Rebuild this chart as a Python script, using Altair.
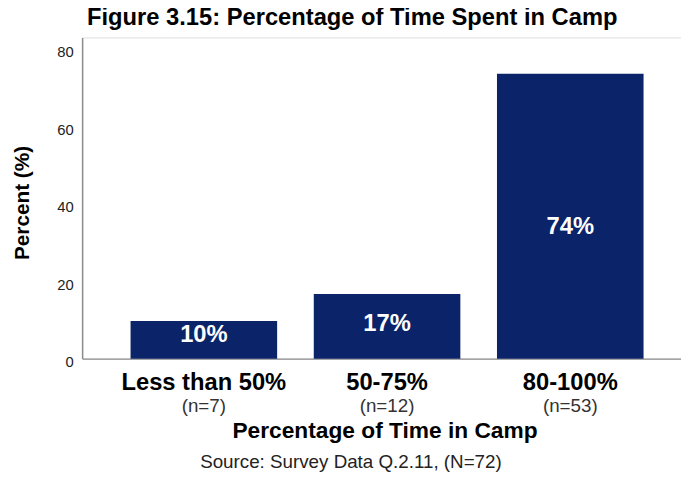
import altair as alt
import pandas as pd

categories = ["Less than 50%", "50-75%", "80-100%"]
counts = ["(n=7)", "(n=12)", "(n=53)"]
percents = [9.72, 16.67, 73.61]
bar_labels = ["10%", "17%", "74%"]
y_ticks = [0, 20, 40, 60, 80]

df = pd.DataFrame({"cat": categories, "n": counts, "value": percents, "lab": bar_labels})

FONT = "Liberation Sans"
BAR = "#0b2469"
W, H = 606, 325

x = alt.X("cat:N", sort=categories,
          scale=alt.Scale(paddingInner=0.2, paddingOuter=0.2344, align=0.564),
          axis=alt.Axis(title="Percentage of Time in Camp", labelAngle=0,
                        labelFont=FONT, labelFontSize=24, labelFontWeight="bold",
                        labelColor="#000", labelPadding=12, ticks=False,
                        domainColor="#8c8c8c", domainWidth=1.5,
                        titleFont=FONT, titleFontSize=23, titleFontWeight="bold",
                        titleColor="#000", titleY=73, titleX=306,
                        titleBaseline="middle", titleAlign="center"))

y = alt.Y("value:Q",
          scale=alt.Scale(domain=[0, 83], nice=False),
          axis=alt.Axis(title="Percent (%)", values=y_ticks, grid=False, ticks=False,
                        labelFont=FONT, labelFontSize=15, labelColor="#222",
                        labelPadding=9, labelOffset=3,
                        domainColor="#8c8c8c", domainWidth=1.5,
                        titleFont=FONT, titleFontSize=21, titleFontWeight="bold",
                        titleColor="#000", titleX=-60, titleY=167,
                        titleAngle=-90, titleBaseline="middle", titleAlign="center"))

base = alt.Chart(df)

bars = base.mark_bar(color=BAR).encode(x=x, y=y)

labels = base.transform_calculate(pos="datum.value*0.436").mark_text(
    font=FONT, fontSize=24, fontWeight="bold", color="white", baseline="alphabetic"
).encode(x=alt.X("cat:N", sort=categories), y=alt.Y("pos:Q"), text="lab:N")

nlab = base.mark_text(font=FONT, fontSize=19, color="#333", baseline="middle").encode(
    x=alt.X("cat:N", sort=categories), y=alt.value(H + 48), text="n:N")

source = alt.Chart(pd.DataFrame({"t": ["Source: Survey Data Q.2.11, (N=72)"]})).mark_text(
    font=FONT, fontSize=19, color="#222", baseline="middle", align="center"
).encode(x=alt.value(272), y=alt.value(H + 105), text="t:N")

chart = alt.layer(bars, labels, nlab, source).properties(
    width=W, height=H,
    title=alt.TitleParams("Figure 3.15: Percentage of Time Spent in Camp",
                          font=FONT, fontSize=24, fontWeight="bold", color="#000",
                          anchor="start", frame="group", dx=5, offset=8),
    autosize=alt.AutoSizeParams(type="none"),
    padding={"left": 75, "top": 27, "right": 0, "bottom": 118},
).configure_view(stroke=None).configure(background="white")

chart.save("out.html", embed_options={"renderer": "svg", "actions": False})
